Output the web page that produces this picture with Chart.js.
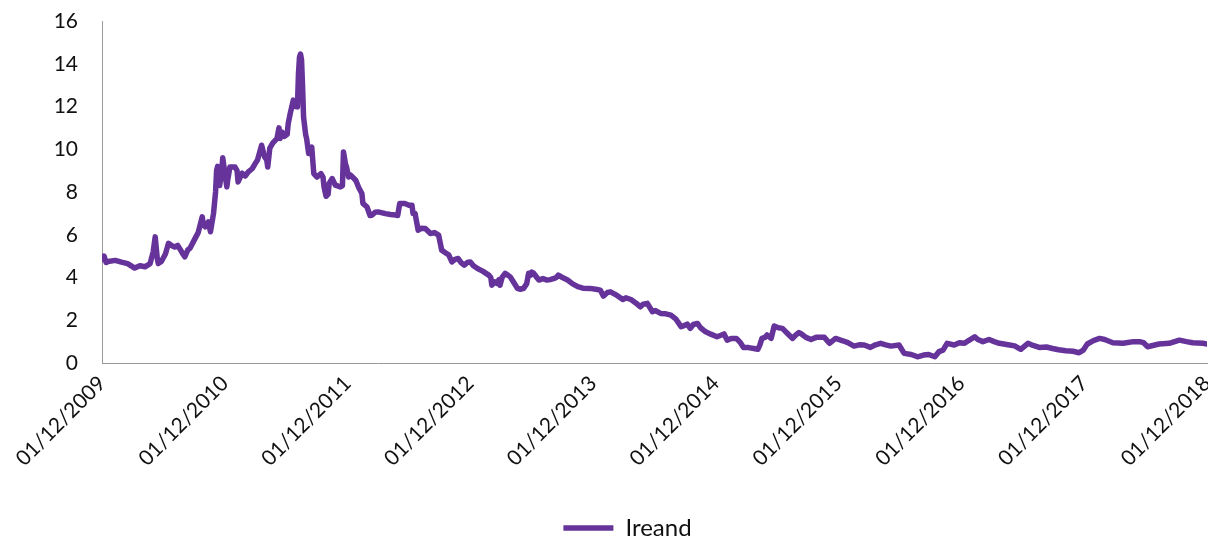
<!DOCTYPE html>
<html>
<head>
<meta charset="utf-8">
<script src="https://cdn.jsdelivr.net/npm/chart.js@4.4.1/dist/chart.umd.min.js"></script>
<style>
  html, body { margin: 0; padding: 0; background: #ffffff; }
  #wrap { width: 1208px; height: 542px; }
</style>
</head>
<body>
<div id="wrap"><canvas id="chart" width="1208" height="542"></canvas></div>
<script>
// Ireland 10-year spread, Dec 2009 – Dec 2018
const seriesName = 'Ireand';

const tickLabels = [
  '01/12/2009', '01/12/2010', '01/12/2011', '01/12/2012', '01/12/2013',
  '01/12/2014', '01/12/2015', '01/12/2016', '01/12/2017', '01/12/2018'
];

// x position of each observation, in months since 01/12/2009
const monthsFromStart = [
  0.0, 0.2, 0.4, 0.6, 1.3, 1.9, 2.5, 3.2, 3.7, 4.2,
  4.7, 5.0, 5.2, 5.4, 5.5, 5.8, 6.2, 6.5, 6.8, 7.1,
  7.4, 7.6, 7.9, 8.1, 8.4, 8.6, 9.1, 9.4, 9.8, 9.9,
  10.1, 10.4, 10.6, 10.9, 11.1, 11.2, 11.3, 11.5, 11.7, 11.8,
  12.2, 12.3, 12.5, 13.0, 13.2, 13.3, 13.7, 14.0, 14.3, 14.7,
  15.0, 15.2, 15.6, 15.8, 15.9, 16.1, 16.2, 16.4, 16.7, 17.1,
  17.3, 17.4, 17.6, 17.8, 18.1, 18.2, 18.4, 18.7, 18.9, 19.1,
  19.2, 19.3, 19.4, 19.5, 19.6, 19.7, 19.9, 20.0, 20.2, 20.4,
  20.5, 20.7, 21.0, 21.4, 21.6, 21.7, 21.9, 22.1, 22.2, 22.5,
  22.8, 23.3, 23.5, 23.6, 23.8, 23.9, 24.1, 24.3, 24.8, 25.1,
  25.4, 25.5, 25.9, 26.2, 26.4, 26.7, 27.0, 27.7, 28.2, 28.7,
  28.9, 29.1, 29.6, 30.0, 30.3, 30.4, 30.6, 30.9, 31.2, 31.6,
  32.1, 32.5, 32.9, 33.2, 33.6, 33.9, 34.2, 34.5, 34.8, 35.1,
  35.4, 35.7, 36.0, 36.3, 36.7, 37.2, 37.8, 38.0, 38.1, 38.4,
  38.6, 38.8, 38.9, 39.1, 39.4, 39.7, 39.9, 40.2, 40.6, 40.9,
  41.2, 41.5, 41.7, 41.9, 42.0, 42.2, 42.5, 42.7, 43.1, 43.5,
  43.8, 44.2, 44.4, 44.6, 45.0, 45.5, 46.0, 46.5, 47.0, 47.7,
  48.4, 48.7, 49.0, 49.4, 49.7, 50.2, 50.9, 51.2, 51.7, 52.2,
  52.6, 52.9, 53.3, 53.8, 54.1, 54.6, 55.1, 55.6, 56.1, 56.6,
  56.9, 57.2, 57.5, 57.8, 58.2, 58.5, 59.0, 59.5, 60.1, 60.5,
  60.8, 61.1, 61.5, 62.0, 62.4, 62.7, 63.2, 63.7, 64.1, 64.3,
  64.5, 64.8, 65.0, 65.4, 65.7, 66.1, 66.5, 67.0, 67.5, 67.8,
  68.1, 68.3, 68.8, 69.3, 69.8, 70.6, 71.1, 71.7, 72.4, 72.9,
  73.5, 74.0, 74.5, 75.1, 75.6, 76.1, 76.6, 77.1, 77.9, 78.4,
  79.1, 79.7, 80.3, 80.8, 81.4, 81.8, 82.2, 82.6, 83.3, 83.8,
  84.3, 84.7, 85.3, 85.6, 86.1, 86.7, 87.2, 87.7, 88.7, 89.2,
  89.8, 90.5, 91.0, 91.6, 92.3, 92.9, 93.5, 94.2, 94.9, 95.5,
  95.9, 96.3, 96.9, 97.5, 98.0, 98.8, 99.8, 100.8, 101.4, 101.8,
  102.2, 102.7, 103.3, 104.3, 105.3, 106.0, 106.6, 107.6, 108.0
];

// spread values (percentage points)
const spreadValues = [
  4.85, 5.00, 4.70, 4.75, 4.80, 4.72, 4.65, 4.44, 4.55, 4.50,
  4.65, 5.20, 5.90, 4.90, 4.65, 4.75, 5.10, 5.60, 5.50, 5.43,
  5.50, 5.35, 5.10, 4.97, 5.30, 5.37, 5.83, 6.10, 6.84, 6.50,
  6.37, 6.60, 6.14, 7.00, 8.00, 9.00, 9.20, 8.30, 9.00, 9.60,
  8.24, 8.60, 9.17, 9.17, 9.00, 8.47, 8.88, 8.75, 8.94, 9.10,
  9.35, 9.50, 10.19, 9.80, 9.64, 9.50, 9.17, 10.05, 10.30, 10.50,
  11.00, 10.50, 10.80, 10.60, 10.70, 11.20, 11.68, 12.30, 12.00, 11.98,
  13.50, 14.30, 14.45, 14.20, 13.00, 11.50, 10.70, 10.50, 9.80, 10.05,
  10.10, 8.86, 8.70, 8.86, 8.70, 8.24, 7.80, 7.90, 8.40, 8.63,
  8.32, 8.24, 8.30, 9.87, 9.30, 9.17, 8.70, 8.79, 8.55, 8.20,
  7.93, 7.47, 7.30, 6.90, 6.92, 7.05, 7.07, 6.99, 6.95, 6.92,
  6.90, 7.46, 7.46, 7.38, 7.38, 6.99, 6.99, 6.21, 6.30, 6.29,
  6.06, 6.10, 5.98, 5.28, 5.15, 5.05, 4.73, 4.85, 4.89, 4.70,
  4.58, 4.70, 4.73, 4.55, 4.42, 4.30, 4.11, 4.00, 3.64, 3.80,
  3.72, 3.90, 3.64, 4.00, 4.19, 4.10, 4.03, 3.80, 3.49, 3.45,
  3.49, 3.70, 4.20, 4.11, 4.25, 4.19, 4.00, 3.88, 3.95, 3.88,
  3.90, 3.96, 4.00, 4.11, 4.00, 3.88, 3.70, 3.57, 3.50, 3.49,
  3.44, 3.41, 3.13, 3.30, 3.33, 3.20, 2.97, 3.05, 2.97, 2.80,
  2.63, 2.75, 2.79, 2.40, 2.45, 2.32, 2.30, 2.24, 2.05, 1.70,
  1.75, 1.82, 1.62, 1.80, 1.85, 1.65, 1.46, 1.35, 1.23, 1.30,
  1.36, 1.07, 1.15, 1.15, 0.95, 0.73, 0.72, 0.68, 0.64, 0.85,
  1.15, 1.20, 1.31, 1.15, 1.73, 1.65, 1.62, 1.38, 1.15, 1.30,
  1.42, 1.38, 1.20, 1.10, 1.20, 1.20, 0.92, 1.15, 1.04, 0.95,
  0.79, 0.85, 0.84, 0.73, 0.85, 0.92, 0.85, 0.79, 0.84, 0.45,
  0.40, 0.29, 0.37, 0.40, 0.29, 0.53, 0.60, 0.92, 0.84, 0.95,
  0.92, 1.05, 1.23, 1.10, 1.00, 1.10, 1.00, 0.92, 0.84, 0.80,
  0.64, 0.92, 0.82, 0.73, 0.75, 0.68, 0.62, 0.57, 0.55, 0.48,
  0.60, 0.89, 1.05, 1.15, 1.10, 0.95, 0.92, 1.00, 1.00, 0.95,
  0.76, 0.82, 0.89, 0.92, 1.07, 1.00, 0.95, 0.92, 0.89
];

const yTicks = [0, 2, 4, 6, 8, 10, 12, 14, 16];

const lineColor = '#65339a';
const textColor = '#111111';
const axisColor = '#9a9a9a';
const fontFamily = 'Lato, "Open Sans", sans-serif';

const points = monthsFromStart.map((m, i) => ({ x: m, y: spreadValues[i] }));

// nudge the legend a little to the right of the canvas centre
const legendOffset = {
  id: 'legendOffset',
  afterLayout(chart) {
    if (chart.legend) {
      chart.legend.left += 24;
      chart.legend.right += 24;
    }
  }
};

new Chart(document.getElementById('chart'), {
  type: 'line',
  data: {
    datasets: [{
      label: seriesName,
      data: points,
      borderColor: lineColor,
      backgroundColor: lineColor,
      borderWidth: 5.5,
      borderCapStyle: 'round',
      borderJoinStyle: 'round',
      pointRadius: 0,
      tension: 0,
      fill: false
    }]
  },
  plugins: [legendOffset],
  options: {
    responsive: false,
    animation: false,
    layout: { padding: { top: 21, right: 1, left: 0, bottom: 0 } },
    scales: {
      x: {
        type: 'linear',
        min: 0,
        max: 108,
        grid: { display: false, drawTicks: false },
        border: { display: true, color: axisColor, width: 1 },
        afterBuildTicks: (scale) => {
          scale.ticks = tickLabels.map((_, i) => ({ value: i * 12 }));
        },
        afterFit: (scale) => {
          scale.height = 149;
          scale.paddingLeft = 0;
          scale.paddingRight = 0;
        },
        ticks: {
          autoSkip: false,
          minRotation: 45,
          maxRotation: 45,
          padding: 8,
          color: textColor,
          font: { family: fontFamily, size: 21 },
          callback: (value) => tickLabels[Math.round(value / 12)]
        }
      },
      y: {
        min: 0,
        max: 16,
        grid: { display: false, drawTicks: false },
        border: { display: true, color: axisColor, width: 1 },
        afterBuildTicks: (scale) => {
          scale.ticks = yTicks.map(v => ({ value: v }));
        },
        afterFit: (scale) => {
          scale.width = 102;
          scale.paddingTop = 0;
          scale.paddingBottom = 0;
        },
        ticks: {
          padding: 24,
          color: textColor,
          font: { family: fontFamily, size: 21 }
        }
      }
    },
    plugins: {
      tooltip: { enabled: false },
      legend: {
        position: 'bottom',
        maxHeight: 30,
        labels: {
          usePointStyle: true,
          pointStyle: 'line',
          pointStyleWidth: 50,
          padding: 4,
          color: textColor,
          font: { family: fontFamily, size: 24 }
        }
      }
    }
  }
});
</script>
</body>
</html>
